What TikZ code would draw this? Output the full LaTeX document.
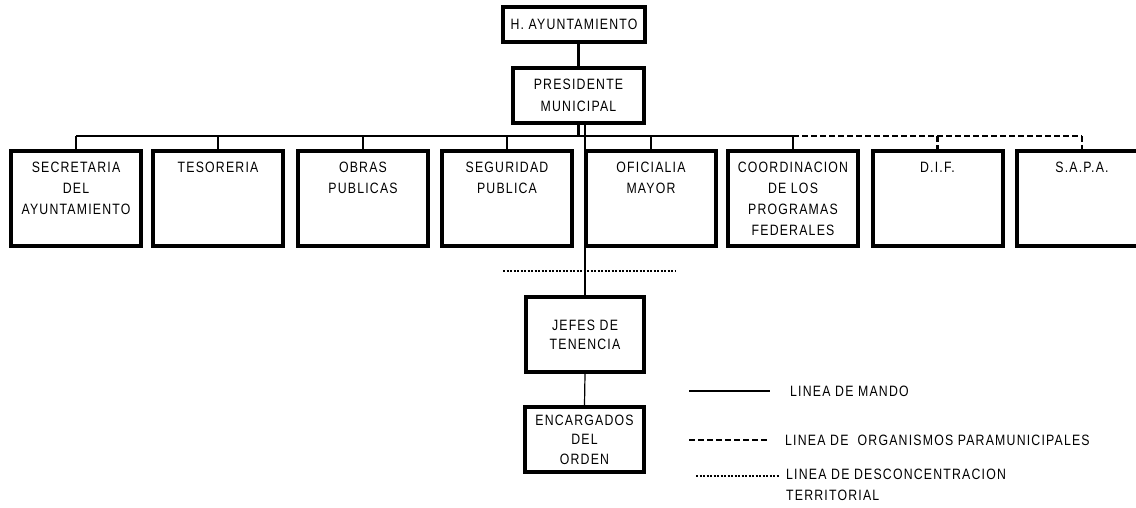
\documentclass[tikz,border=0pt]{standalone}
\usepackage{fontspec}
\setmainfont{Liberation Sans}[FakeStretch=0.82, LetterSpace=8]
\newcommand{\rowtext}[1]{\parbox[c][95pt][t]{128pt}{\centering\rule{0pt}{21.5pt}#1}}
\tikzset{
  box/.style={draw, line width=4pt, inner sep=0pt, minimum width=130pt, minimum height=95pt},
  topbox/.style={draw, line width=4pt, inner sep=0pt, align=center},
  conn/.style={line width=2.2pt},
  thinconn/.style={line width=1.2pt},
  para/.style={line width=2.2pt, dash pattern=on 6pt off 3pt},
  desc/.style={line width=1.6pt, dash pattern=on 2pt off 1.5pt},
  lbl/.style={anchor=west, inner sep=0pt, align=left},
}
\begin{document}
\begin{tikzpicture}[x=1pt,y=1pt,font=\fontsize{15}{21}\selectfont]
\useasboundingbox (0,0) rectangle (1136,-508);
\clip (0,0) rectangle (1136,-508);

% top
\node[topbox, minimum width=142pt, minimum height=35pt] (H) at (574,-24.5) {H. AYUNTAMIENTO};
\node[topbox, minimum width=131pt, minimum height=55pt, font=\fontsize{15}{22}\selectfont] (P) at (578.5,-95.5) {PRESIDENTE\\MUNICIPAL};

% row
\node[box] (s1) at (76,-198.5) {\rowtext{SECRETARIA\\DEL\\AYUNTAMIENTO}};
\node[box] (s2) at (218,-198.5) {\rowtext{TESORERIA}};
\node[box] (s3) at (363,-198.5) {\rowtext{OBRAS\\PUBLICAS}};
\node[box] (s4) at (507,-198.5) {\rowtext{SEGURIDAD\\PUBLICA}};
\node[box] (s5) at (651,-198.5) {\rowtext{OFICIALIA\\MAYOR}};
\node[box] (s6) at (793,-198.5) {\rowtext{COORDINACION\\DE LOS\\PROGRAMAS\\FEDERALES}};
\node[box] (s7) at (937.5,-198.5) {\rowtext{D.I.F.}};
\node[box] (s8) at (1082,-198.5) {\rowtext{S.A.P.A.}};

% lower
\node[topbox, minimum width=118pt, minimum height=75pt, font=\fontsize{15}{19}\selectfont] (J) at (585,-334.5) {JEFES DE\\TENENCIA};
\node[topbox, minimum width=119pt, minimum height=65pt, font=\fontsize{15}{19.5}\selectfont] (E) at (584.5,-439.5) {ENCARGADOS\\DEL\\ORDEN};

% connectors
\coordinate (bus) at (0,-136);
\draw[conn] (P.north |- H.south) -- (P.north);
\draw[conn] (P.south) -- (P.south |- bus);
\draw[conn] (s1.north |- bus) -- (s6.north |- bus);
\foreach \n in {s1,s2,s3,s4,s5,s6} \draw[conn] (\n.north) -- (\n.north |- bus);
\draw[para] (s6.north |- bus) -- (s8.north |- bus);
\draw[para] (s7.north |- bus) -- (s7.north);
\draw[para] (s8.north |- bus) -- (s8.north);
\draw[thinconn] (J.north |- P.south) -- (J.north);
\draw[thinconn] (J.south) -- (E.north);
\coordinate (d1) at (503,-271);
\coordinate (d2) at (675,-271);
\draw[desc] (d1) -- (d2);

% legend
\coordinate (l1a) at (689,-391); \coordinate (l1b) at (770,-391);
\coordinate (l2a) at (689,-440); \coordinate (l2b) at (767,-440);
\coordinate (l3a) at (696,-476); \coordinate (l3b) at (780,-476);
\draw[line width=2.8pt] (l1a) -- (l1b);
\draw[para] (l2a) -- (l2b);
\draw[desc] (l3a) -- (l3b);
\node[lbl] (t1) at (790,-391) {LINEA DE MANDO};
\node[lbl] (t2) at (785,-440) {LINEA DE\ \ ORGANISMOS PARAMUNICIPALES};
\node[lbl, anchor=north west] (t3) at (786,-469) {LINEA DE DESCONCENTRACION\\TERRITORIAL};
\end{tikzpicture}
\end{document}
